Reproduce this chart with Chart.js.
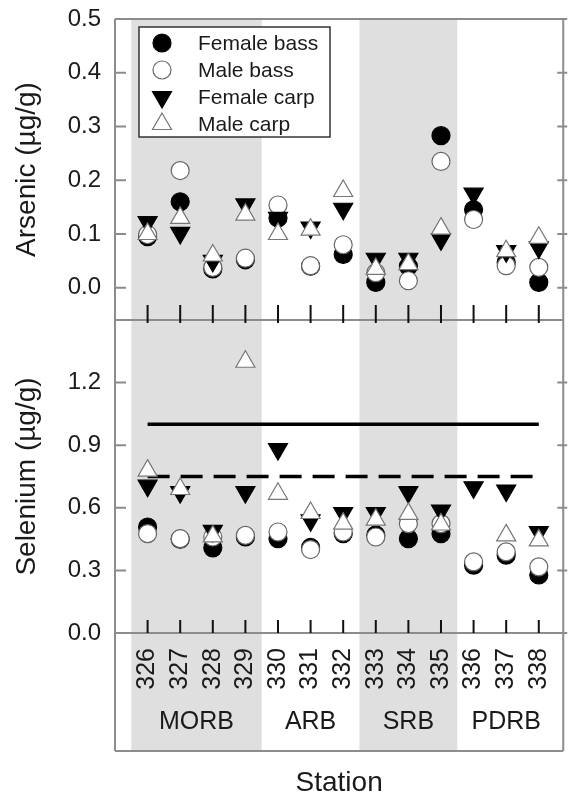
<!DOCTYPE html>
<html>
<head>
<meta charset="utf-8">
<script src="https://cdn.jsdelivr.net/npm/chart.js@4/dist/chart.umd.min.js"></script>
<style>
  html, body { margin: 0; padding: 0; background: #fff; }
  #wrap { width: 584px; height: 796px; position: relative; }
</style>
</head>
<body>
<div id="wrap"><canvas id="c" width="584" height="796"></canvas></div>
<script>
// stations and the basins they belong to
const stations = [326, 327, 328, 329, 330, 331, 332, 333, 334, 335, 336, 337, 338];
const groupNames = ['MORB', 'ARB', 'SRB', 'PDRB'];
const groupSizes = [4, 3, 3, 3];
const groupShaded = [true, false, true, false];
const seriesNames = ['Female bass', 'Male bass', 'Female carp', 'Male carp'];

// arsenic, ug/g
const asFemaleBass = [0.095, 0.16, 0.035, 0.052, 0.13, 0.04, 0.062, 0.01, 0.04, 0.283, 0.145, 0.047, 0.01];
const asMaleBass   = [0.099, 0.218, 0.038, 0.055, 0.154, 0.041, 0.08, 0.028, 0.013, 0.235, 0.127, 0.041, 0.038];
const asFemaleCarp = [0.122, 0.102, 0.05, 0.155, 0.13, 0.112, 0.147, 0.054, 0.054, 0.09, 0.175, 0.068, 0.075];
const asMaleCarp   = [0.1, 0.13, 0.06, 0.136, 0.1, 0.108, 0.18, 0.035, 0.044, 0.11, null, 0.068, 0.093];

// selenium, ug/g
const seFemaleBass = [0.508, 0.45, 0.408, 0.46, 0.452, 0.41, 0.476, 0.47, 0.452, 0.476, 0.325, 0.373, 0.278];
const seMaleBass   = [0.476, 0.452, 0.46, 0.468, 0.484, 0.4, 0.484, 0.46, 0.524, 0.524, 0.341, 0.389, 0.317];
const seFemaleCarp = [0.706, 0.675, 0.489, 0.675, 0.881, 0.54, 0.575, 0.575, 0.675, 0.587, 0.698, 0.683, 0.484];
const seMaleCarp   = [0.778, 0.69, 0.463, 1.30, 0.667, 0.575, 0.524, 0.543, 0.571, 0.52, null, 0.468, 0.444];

const seLimits = [1.0, 0.75];   // solid, dashed
const asTicks = [0, 0.1, 0.2, 0.3, 0.4, 0.5];
const seTicks = [0, 0.3, 0.6, 0.9, 1.2];

const FONT = '"Liberation Sans", Arial, sans-serif';
const TEXT = '#1a1a1a';
const FRAME = '#8c8c8c';

const styles = [
  { pointStyle: 'circle', radius: 9, rotation: 0, bg: '#000', border: '#000' },
  { pointStyle: 'circle', radius: 9, rotation: 0, bg: '#fff', border: '#666' },
  { pointStyle: 'triangle', radius: 11, rotation: 180, bg: '#000', border: '#000' },
  { pointStyle: 'triangle', radius: 11, rotation: 0, bg: '#fff', border: '#777' }
];

function pts(vals) {
  return stations.map((s, i) => ({ x: s, y: vals[i] }));
}

function markerSet(vals, k, axis) {
  const st = styles[k];
  return {
    type: 'scatter',
    label: seriesNames[k],
    data: pts(vals),
    yAxisID: axis,
    pointStyle: st.pointStyle,
    pointRadius: st.radius,
    rotation: st.rotation,
    backgroundColor: st.bg,
    borderColor: st.border,
    borderWidth: 1.2,
    order: 4 - k
  };
}

function limitLine(v, dash) {
  return {
    type: 'line',
    data: [{ x: stations[0], y: v }, { x: stations[stations.length - 1], y: v }],
    yAxisID: 'ySe',
    borderColor: '#000',
    borderWidth: 3.5,
    borderDash: dash,
    pointRadius: 0,
    fill: false,
    order: 10
  };
}

const datasets = [
  markerSet(asFemaleBass, 0, 'yAs'),
  markerSet(asMaleBass, 1, 'yAs'),
  markerSet(asFemaleCarp, 2, 'yAs'),
  markerSet(asMaleCarp, 3, 'yAs'),
  markerSet(seFemaleBass, 0, 'ySe'),
  markerSet(seMaleBass, 1, 'ySe'),
  markerSet(seFemaleCarp, 2, 'ySe'),
  markerSet(seMaleCarp, 3, 'ySe'),
  limitLine(seLimits[0], []),
  limitLine(seLimits[1], [22, 11])
];

// own marker drawing for the legend box
function drawMarker(ctx, st, x, y) {
  ctx.save();
  ctx.fillStyle = st.bg;
  ctx.strokeStyle = st.border;
  ctx.lineWidth = 1.2;
  ctx.beginPath();
  if (st.pointStyle === 'circle') {
    ctx.arc(x, y, st.radius, 0, Math.PI * 2);
  } else {
    let rad = st.rotation * Math.PI / 180;
    for (let i = 0; i < 3; i++) {
      const px = x + Math.sin(rad) * st.radius;
      const py = y - Math.cos(rad) * st.radius;
      if (i === 0) ctx.moveTo(px, py); else ctx.lineTo(px, py);
      rad += Math.PI * 2 / 3;
    }
    ctx.closePath();
  }
  ctx.fill();
  ctx.stroke();
  ctx.restore();
}

function groupRanges() {
  let i = 0;
  return groupSizes.map(n => {
    const g = stations.slice(i, i + n);
    i += n;
    return g;
  });
}

const decor = {
  id: 'decor',
  beforeDraw(chart) {
    const { ctx, chartArea: a, scales: { x } } = chart;
    const boxBottom = a.bottom + 118;
    ctx.save();
    ctx.fillStyle = '#dfdfdf';
    groupRanges().forEach((g, k) => {
      if (!groupShaded[k]) return;
      const x0 = Math.max(a.left, x.getPixelForValue(g[0] - 0.5));
      const x1 = Math.min(a.right, x.getPixelForValue(g[g.length - 1] + 0.5));
      ctx.fillRect(x0, a.top, x1 - x0, boxBottom - a.top);
    });
    ctx.restore();
  },
  beforeDatasetsDraw(chart) {
    const { ctx, chartArea: a, scales: { x, yAs, ySe } } = chart;
    const boxBottom = a.bottom + 118;
    const mid = yAs.bottom;
    ctx.save();
    // frame
    ctx.strokeStyle = FRAME;
    ctx.lineWidth = 2;
    ctx.beginPath();
    [a.top, mid, a.bottom, boxBottom].forEach(y => { ctx.moveTo(a.left, y); ctx.lineTo(a.right, y); });
    ctx.moveTo(a.left, a.top); ctx.lineTo(a.left, boxBottom);
    ctx.moveTo(a.right, a.top); ctx.lineTo(a.right, boxBottom);
    ctx.stroke();
    // y ticks, inward
    ctx.beginPath();
    asTicks.forEach(v => {
      const y = yAs.getPixelForValue(v);
      ctx.moveTo(a.left, y); ctx.lineTo(a.left + 11, y);
      ctx.moveTo(a.right - 6, y); ctx.lineTo(a.right + 4, y);
    });
    seTicks.forEach(v => {
      const y = ySe.getPixelForValue(v);
      ctx.moveTo(a.left, y); ctx.lineTo(a.left + 11, y);
      ctx.moveTo(a.right - 6, y); ctx.lineTo(a.right + 4, y);
    });
    ctx.stroke();
    // station ticks
    ctx.strokeStyle = '#111';
    ctx.lineWidth = 2;
    ctx.beginPath();
    stations.forEach(s => {
      const px = x.getPixelForValue(s);
      ctx.moveTo(px, mid + 3); ctx.lineTo(px, mid - 15);
      ctx.moveTo(px, a.bottom); ctx.lineTo(px, a.bottom - 13);
    });
    ctx.stroke();
    // basin names
    ctx.fillStyle = TEXT;
    ctx.font = '25px ' + FONT;
    ctx.textAlign = 'center';
    ctx.textBaseline = 'middle';
    groupRanges().forEach((g, k) => {
      const c = (g[0] + g[g.length - 1]) / 2;
      ctx.fillText(groupNames[k], x.getPixelForValue(c), a.bottom + 89);
    });
    ctx.restore();
  },
  afterDatasetsDraw(chart) {
    const { ctx, chartArea: a } = chart;
    const bx = a.left + 24, by = a.top + 8, bw = 191, bh = 110;
    ctx.save();
    ctx.fillStyle = '#fff';
    ctx.fillRect(bx, by, bw, bh);
    ctx.strokeStyle = '#333';
    ctx.lineWidth = 1.5;
    ctx.strokeRect(bx, by, bw, bh);
    ctx.font = '21px ' + FONT;
    ctx.fillStyle = TEXT;
    ctx.textAlign = 'left';
    ctx.textBaseline = 'middle';
    seriesNames.forEach((name, k) => {
      const y = by + 16 + k * 27;
      drawMarker(ctx, styles[k], bx + 23, y);
      ctx.fillText(name, bx + 59, y + 1);
    });
    ctx.restore();
  }
};

function yScale(opts) {
  return Object.assign({
    type: 'linear',
    position: 'left',
    stack: 'panels',
    afterFit: s => { s.width = 115; s.paddingTop = 0; s.paddingBottom = 0; },
    grid: { display: false, drawTicks: false },
    border: { display: false }
  }, opts);
}

new Chart(document.getElementById('c'), {
  type: 'scatter',
  data: { datasets },
  plugins: [decor],
  options: {
    responsive: false,
    animation: false,
    devicePixelRatio: 1,
    layout: { autoPadding: false, padding: { top: 19, right: 4, left: 0, bottom: 0 } },
    plugins: { legend: { display: false }, tooltip: { enabled: false } },
    scales: {
      x: {
        type: 'linear',
        position: 'bottom',
        min: 325,
        max: 338.75,
        afterBuildTicks: s => { s.ticks = stations.map(v => ({ value: v })); },
        afterFit: s => { s.height = 163; },
        grid: { display: false, drawTicks: false },
        border: { display: false },
        ticks: {
          autoSkip: false, minRotation: 90, maxRotation: 90, padding: 15,
          font: { family: FONT, size: 25 }, color: TEXT,
          callback: v => String(v)
        },
        title: {
          display: true, text: 'Station', color: TEXT,
          font: { family: FONT, size: 28 }, padding: { top: 4, bottom: -4 }
        }
      },
      ySe: yScale({
        stackWeight: 313,
        min: 0,
        max: 1.5,
        afterBuildTicks: s => { s.ticks = seTicks.map(v => ({ value: v })); },
        ticks: { autoSkip: false, padding: 14, font: { family: FONT, size: 24 }, color: TEXT, callback: v => v.toFixed(1) },
        title: { display: true, text: 'Selenium (µg/g)', color: TEXT, font: { family: FONT, size: 28 }, padding: { top: 10, bottom: 0 } }
      }),
      yAs: yScale({
        stackWeight: 301,
        min: -0.06,
        max: 0.5,
        afterBuildTicks: s => { s.ticks = asTicks.map(v => ({ value: v })); },
        ticks: { autoSkip: false, padding: 14, font: { family: FONT, size: 24 }, color: TEXT, callback: v => v.toFixed(1) },
        title: { display: true, text: 'Arsenic (µg/g)', color: TEXT, font: { family: FONT, size: 28 }, padding: { top: 10, bottom: 0 } }
      })
    }
  }
});
</script>
</body>
</html>
